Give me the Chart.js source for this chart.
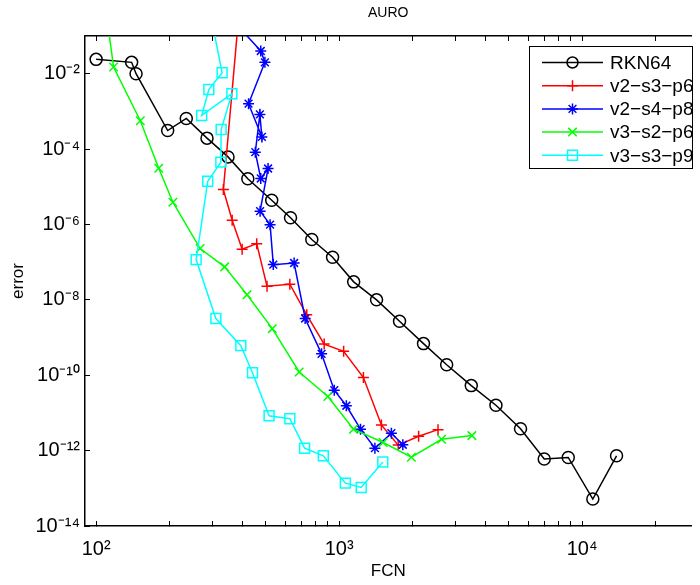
<!DOCTYPE html>
<html>
<head>
<meta charset="utf-8">
<script src="https://cdn.jsdelivr.net/npm/chart.js@4/dist/chart.umd.min.js"></script>
<style>
  html, body { margin: 0; padding: 0; background: #fff; overflow: hidden; }
  canvas { display: block; }
</style>
</head>
<body>
<canvas id="chart" width="700" height="585"></canvas>
<script>
// values (FCN vs error)
const rknFcn = [100, 140, 146, 197, 235, 286, 349, 421, 528, 631, 772, 940, 1148, 1426, 1773, 2225, 2771, 3499, 4420, 5580, 6985, 8770, 11070, 13860];
const rknErr = [2.4e-2, 2.0e-2, 1.0e-2, 3.1e-4, 6.5e-4, 1.95e-4, 6.2e-5, 1.63e-5, 4.4e-6, 1.5e-6, 4.0e-7, 1.35e-7, 3.0e-8, 1.0e-8, 2.7e-9, 6.9e-10, 1.9e-10, 5.3e-11, 1.6e-11, 3.8e-12, 6.0e-13, 6.6e-13, 5.2e-14, 7.3e-13];

const v2s3Fcn = [392, 334, 363, 399, 458, 505, 627, 736, 868, 1044, 1259, 1493, 1751, 2125, 2553];
const v2s3Err = [1.0, 8.4e-6, 1.3e-6, 2.2e-7, 3.1e-7, 2.3e-8, 2.6e-8, 4.0e-9, 6.7e-10, 4.3e-10, 8.7e-11, 4.8e-12, 1.4e-12, 2.4e-12, 3.6e-12];

const v2s4Fcn = [302, 476, 495, 424, 481, 472, 452, 476, 510, 473, 520, 536, 653, 725, 847, 955, 1071, 1225, 1404, 1641, 1829];
const v2s4Err = [1.0, 4.0e-2, 2.0e-2, 1.6e-3, 2.1e-4, 8.3e-4, 8.3e-5, 1.66e-5, 3.05e-5, 2.25e-6, 9.9e-7, 8.6e-8, 9.5e-8, 3.2e-9, 3.7e-10, 4.0e-11, 1.55e-11, 3.7e-12, 1.16e-12, 2.9e-12, 1.43e-12];

const v3s2Fcn = [108, 118, 152, 181, 207, 268, 338, 418, 531, 685, 899, 1146, 1517, 1984, 2641, 3519];
const v3s2Err = [1.0, 1.5e-2, 5.65e-4, 3.1e-5, 3.9e-6, 2.3e-7, 7.5e-8, 1.37e-8, 1.72e-9, 1.22e-10, 2.74e-11, 3.7e-12, 1.64e-12, 6.7e-13, 2.0e-12, 2.5e-12];

const v3s3Fcn = [287, 330, 291, 272, 362, 327, 326, 288, 258, 311, 394, 440, 515, 627, 721, 861, 1061, 1233, 1513];
const v3s3Err = [1.0, 1.06e-2, 3.8e-3, 7.8e-4, 2.94e-3, 3.3e-4, 4.5e-5, 1.4e-5, 1.17e-7, 3.2e-9, 6.1e-10, 1.16e-10, 8.4e-12, 7.0e-12, 1.16e-12, 7.3e-13, 1.37e-13, 1.05e-13, 5.0e-13];

const seriesLabels = ["RKN64", "v2\u2212s3\u2212p6", "v2\u2212s4\u2212p8", "v3\u2212s2\u2212p6", "v3\u2212s3\u2212p9"];

const xTicks = [100, 200, 300, 400, 500, 600, 700, 800, 900, 1000, 2000, 3000, 4000, 5000, 6000, 7000, 8000, 9000, 10000, 20000];
const yTicks = [1e-14, 1e-12, 1e-10, 1e-8, 1e-6, 1e-4, 1e-2];
const xMin = 90, xMax = 28200;
const yMin = 1e-14, yMax = 1e-1;

const FONT = "'Liberation Sans', Arial, Helvetica, sans-serif";

const SUP = { "-": "\u207B", "0": "\u2070", "1": "\u00B9", "2": "\u00B2", "3": "\u00B3", "4": "\u2074", "5": "\u2075", "6": "\u2076", "7": "\u2077", "8": "\u2078", "9": "\u2079" };

function powerLabel(v) {
  const e = Math.round(Math.log10(v));
  if (Math.abs(v / Math.pow(10, e) - 1) > 1e-6) return "";
  return "10" + String(e).split("").map((c) => SUP[c]).join("");
}

function toPoints(xs, ys) {
  return xs.map((x, i) => ({ x, y: ys[i] }));
}

const styles = [
  { color: "#000000", pointStyle: "circle", radius: 6 },
  { color: "#ff0000", pointStyle: "cross", radius: 5.5 },
  { color: "#0000ff", pointStyle: "star", radius: 5.5 },
  { color: "#00ff00", pointStyle: "crossRot", radius: 6 },
  { color: "#00ffff", pointStyle: "rect", radius: 7 },
];

const seriesData = [
  toPoints(rknFcn, rknErr),
  toPoints(v2s3Fcn, v2s3Err),
  toPoints(v2s4Fcn, v2s4Err),
  toPoints(v3s2Fcn, v3s2Err),
  toPoints(v3s3Fcn, v3s3Err),
];

const datasets = seriesData.map((data, i) => ({
  label: seriesLabels[i],
  data,
  order: seriesData.length - i,
  borderColor: styles[i].color,
  backgroundColor: "rgba(0,0,0,0)",
  borderWidth: 1.5,
  pointStyle: styles[i].pointStyle,
  pointRadius: styles[i].radius,
  pointBorderColor: styles[i].color,
  pointBackgroundColor: "rgba(0,0,0,0)",
  pointBorderWidth: 1.5,
  tension: 0,
}));

// MATLAB-style legend box inside the top right corner
const insetLegend = {
  id: "insetLegend",
  afterDraw(chart) {
    const ctx = chart.ctx;
    const box = { x: 529.5, y: 46.5, w: 163, h: 122 };
    ctx.save();
    ctx.fillStyle = "#fff";
    ctx.fillRect(box.x, box.y, box.w, box.h);
    ctx.strokeStyle = "#000";
    ctx.lineWidth = 1;
    ctx.strokeRect(box.x, box.y, box.w, box.h);
    ctx.beginPath();
    ctx.rect(box.x, box.y, box.w, box.h);
    ctx.clip();
    chart.data.datasets.forEach((ds, i) => {
      const y = 62.5 + i * 23.2;
      ctx.strokeStyle = ds.borderColor;
      ctx.lineWidth = 1.5;
      ctx.beginPath();
      ctx.moveTo(542, y);
      ctx.lineTo(603, y);
      ctx.stroke();
      ctx.fillStyle = "rgba(0,0,0,0)";
      Chart.helpers.drawPoint(ctx, {
        pointStyle: ds.pointStyle,
        radius: ds.pointStyle === "circle" ? 5.5 : ds.pointRadius,
        borderWidth: 1.5,
        rotation: 0,
      }, 572.5, y);
      ctx.fillStyle = "#000";
      ctx.font = "19px " + FONT;
      ctx.textAlign = "left";
      ctx.textBaseline = "middle";
      ctx.fillText(ds.label, 610, y + 1);
    });
    ctx.restore();
  },
};

const tickGrid = {
  drawOnChartArea: false,
  drawTicks: true,
  tickLength: -5,
  color: "#000",
  lineWidth: 1,
};

new Chart(document.getElementById("chart"), {
  type: "line",
  data: { datasets },
  options: {
    responsive: false,
    animation: false,
    devicePixelRatio: 1,
    layout: { padding: 0 },
    plugins: {
      legend: { display: false },
      tooltip: { enabled: false },
      title: { display: false },
    },
    scales: {
      x: {
        type: "logarithmic",
        position: "bottom",
        min: xMin,
        max: xMax,
        afterBuildTicks: (scale) => { scale.ticks = xTicks.map((value) => ({ value })); },
        afterFit: (scale) => { scale.height = 59; },
        grid: tickGrid,
        border: { display: true, color: "#000", width: 1.5 },
        ticks: {
          autoSkip: false,
          maxRotation: 0,
          padding: 16,
          color: "#000",
          font: { family: FONT, size: 20 },
          callback: (value) => powerLabel(value),
        },
        title: {
          display: true,
          text: "FCN",
          color: "#000",
          font: { family: FONT, size: 17 },
          padding: { top: 0, bottom: 3 },
        },
      },
      x2: {
        type: "logarithmic",
        axis: "x",
        position: "top",
        min: xMin,
        max: xMax,
        afterBuildTicks: (scale) => { scale.ticks = xTicks.map((value) => ({ value })); },
        afterFit: (scale) => { scale.height = 36; },
        grid: tickGrid,
        border: { display: true, color: "#000", width: 1.5 },
        ticks: { autoSkip: false, maxRotation: 0, callback: () => "" },
        title: {
          display: true,
          text: "AURO",
          color: "#000",
          font: { family: FONT, size: 14 },
          padding: { top: 5, bottom: 0 },
        },
      },
      y: {
        type: "logarithmic",
        position: "left",
        min: yMin,
        max: yMax,
        afterBuildTicks: (scale) => { scale.ticks = yTicks.map((value) => ({ value })); },
        afterFit: (scale) => { scale.width = 85; },
        grid: tickGrid,
        border: { display: true, color: "#000", width: 1.5 },
        ticks: {
          autoSkip: false,
          padding: 10,
          color: "#000",
          font: { family: FONT, size: 20 },
          callback: (value) => powerLabel(value),
        },
        title: {
          display: true,
          text: "error",
          color: "#000",
          font: { family: FONT, size: 17 },
          padding: { top: 8, bottom: 0 },
        },
      },
    },
  },
  plugins: [insetLegend],
});
</script>
</body>
</html>
